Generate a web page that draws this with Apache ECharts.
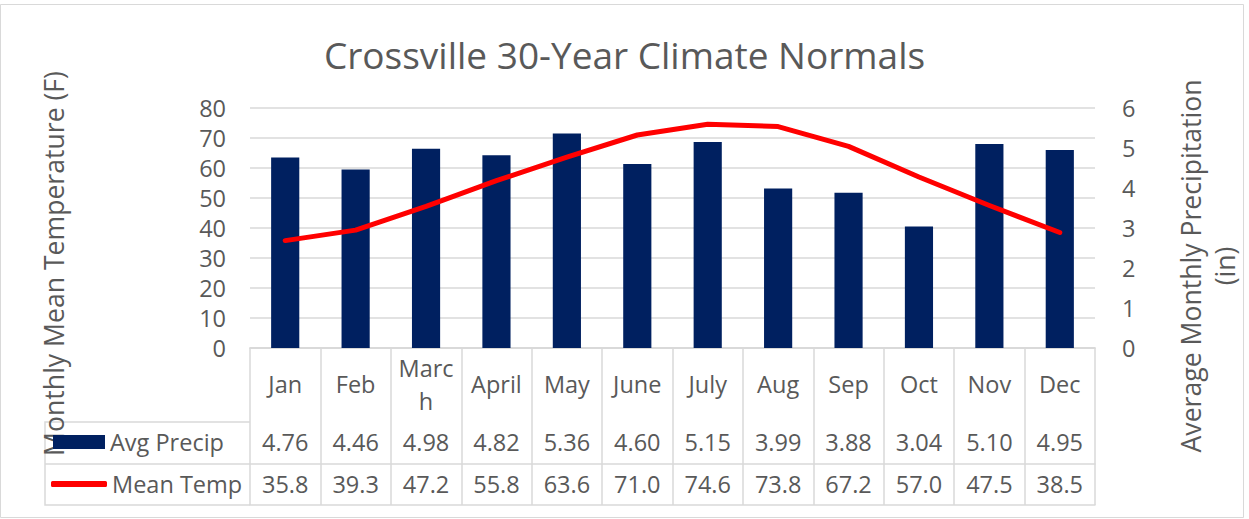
<!DOCTYPE html>
<html>
<head>
<meta charset="utf-8">
<style>
  html, body { margin: 0; padding: 0; background: #ffffff; }
  #chart { width: 1249px; height: 519px; }
</style>
<script src="https://cdn.jsdelivr.net/npm/echarts@6/dist/echarts.min.js"></script>
</head>
<body>
<div id="chart"></div>
<script>
// Crossville 30-year climate normals: monthly precipitation (bars, right axis)
// and monthly mean temperature (line, left axis), with a data table below.
const months = ['Jan', 'Feb', 'March', 'April', 'May', 'June', 'July', 'Aug', 'Sep', 'Oct', 'Nov', 'Dec'];
const avgPrecip = [4.76, 4.46, 4.98, 4.82, 5.36, 4.60, 5.15, 3.99, 3.88, 3.04, 5.10, 4.95];
const meanTemp = [35.8, 39.3, 47.2, 55.8, 63.6, 71.0, 74.6, 73.8, 67.2, 57.0, 47.5, 38.5];
const tempAxis = { min: 0, max: 80, interval: 10 };
const precipAxis = { min: 0, max: 6, interval: 1 };

const FONT = 'Open Sans';
const GREY = '#595959';
const RULE = '#d9d9d9';
const BAR_COLOR = '#002060';
const LINE_COLOR = '#ff0000';

const chart = echarts.init(document.getElementById('chart'), null, { renderer: 'svg' });

// one category axis per table row; the row text comes from the axis labels
function tableRow(offset, margin, values, digits) {
  return {
    type: 'category',
    data: months,
    position: 'bottom',
    offset: offset,
    axisLine: { show: true, lineStyle: { color: RULE, width: 1.5 } },
    axisTick: { show: false },
    splitLine: { show: false },
    axisLabel: {
      show: values !== null,
      interval: 0,
      margin: margin,
      verticalAlign: 'middle',
      fontFamily: FONT,
      fontSize: 23.5,
      color: GREY,
      formatter: function (v, i) { return values ? values[i].toFixed(digits) : ''; }
    }
  };
}

chart.setOption({
  backgroundColor: '#ffffff',
  animation: false,
  title: {
    text: 'Crossville 30-Year Climate Normals',
    left: 'center',
    top: 31,
    textStyle: { fontFamily: FONT, fontSize: 37, fontWeight: 'normal', color: GREY }
  },
  legend: [
    {
      data: ['Avg Precip'],
      left: 53,
      top: 428,
      padding: 0,
      itemWidth: 52,
      itemHeight: 14,
      icon: 'rect',
      selectedMode: false,
      textStyle: { fontFamily: FONT, fontSize: 23.5, color: GREY, lineHeight: 28 }
    },
    {
      data: [{ name: 'Mean Temp', icon: 'roundRect' }],
      left: 51,
      top: 470,
      padding: 0,
      itemWidth: 56,
      itemHeight: 6,
      selectedMode: false,
      textStyle: { fontFamily: FONT, fontSize: 23.5, color: GREY, lineHeight: 28 }
    }
  ],
  grid: {
    left: 250,
    right: 154,
    top: 108,
    bottom: 171,
    containLabel: false,
    outerBoundsMode: 'none'
  },
  xAxis: [
    {
      type: 'category',
      data: months,
      position: 'bottom',
      axisLine: { show: true, lineStyle: { color: RULE, width: 1.5 } },
      axisTick: { show: true, length: 157, lineStyle: { color: RULE, width: 1.5 } },
      splitLine: { show: false },
      axisLabel: {
        interval: 0,
        margin: 36,
        verticalAlign: 'middle',
        width: 60,
        overflow: 'breakAll',
        lineHeight: 33,
        fontFamily: FONT,
        fontSize: 23.5,
        color: GREY
      }
    },
    tableRow(74, 20, avgPrecip, 2),
    tableRow(116, 20, meanTemp, 1),
    tableRow(157, 20, null, 0)
  ],
  yAxis: [
    {
      type: 'value',
      position: 'left',
      min: tempAxis.min,
      max: tempAxis.max,
      interval: tempAxis.interval,
      name: 'Monthly Mean Temperature (F)',
      nameLocation: 'middle',
      nameGap: 183,
      nameTextStyle: { fontFamily: FONT, fontSize: 26.6, color: GREY, padding: [0, 71, 0, 0] },
      axisLine: { show: false },
      axisTick: { show: false },
      splitLine: { show: true, lineStyle: { color: RULE, width: 1.5 } },
      axisLabel: { margin: 24, fontFamily: FONT, fontSize: 23.5, color: GREY }
    },
    {
      type: 'value',
      position: 'right',
      min: precipAxis.min,
      max: precipAxis.max,
      interval: precipAxis.interval,
      name: 'Average Monthly Precipitation\n(in)',
      nameLocation: 'middle',
      nameGap: 79,
      nameTextStyle: { fontFamily: FONT, fontSize: 26.6, lineHeight: 34, color: GREY, padding: [0, 76, 0, 0] },
      axisLine: { show: false },
      axisTick: { show: false },
      splitLine: { show: false },
      axisLabel: { margin: 27, fontFamily: FONT, fontSize: 23.5, color: GREY }
    }
  ],
  series: [
    {
      name: 'Avg Precip',
      type: 'bar',
      xAxisIndex: 0,
      yAxisIndex: 1,
      data: avgPrecip,
      barWidth: '40%',
      itemStyle: { color: BAR_COLOR }
    },
    {
      name: 'Mean Temp',
      type: 'line',
      xAxisIndex: 0,
      yAxisIndex: 0,
      data: meanTemp,
      symbol: 'none',
      itemStyle: { color: LINE_COLOR },
      lineStyle: { color: LINE_COLOR, width: 5, cap: 'round', join: 'round' }
    }
  ],
  graphic: [
    // chart frame
    {
      type: 'rect',
      shape: { x: 0.5, y: 4.5, width: 1243, height: 513 },
      style: { fill: null, stroke: RULE, lineWidth: 1 },
      silent: true
    },
    // legend column of the data table
    {
      type: 'polyline',
      shape: { points: [[250, 422], [45, 422], [45, 505], [250, 505]] },
      style: { fill: null, stroke: RULE, lineWidth: 1.5 },
      silent: true
    },
    {
      type: 'line',
      shape: { x1: 45, y1: 464, x2: 250, y2: 464 },
      style: { stroke: RULE, lineWidth: 1.5 },
      silent: true
    }
  ]
});
</script>
</body>
</html>
